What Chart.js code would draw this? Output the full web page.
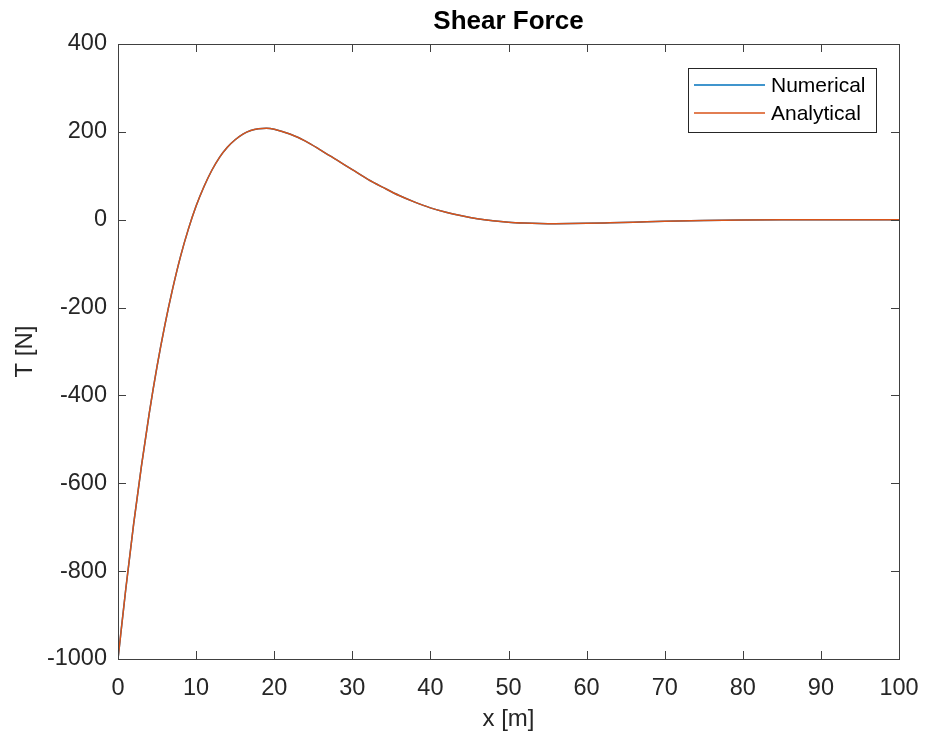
<!DOCTYPE html>
<html>
<head>
<meta charset="utf-8">
<script src="https://cdn.jsdelivr.net/npm/chart.js@4/dist/chart.umd.min.js"></script>
<style>
  html, body { margin: 0; padding: 0; background: #fff; }
  #wrap { width: 925px; height: 736px; }
</style>
</head>
<body>
<div id="wrap"><canvas id="c" width="925" height="736"></canvas></div>
<script>
// ---- data ----
const xValues = [0, 1, 2, 3, 4, 5, 6, 7, 8, 9, 10, 11, 12, 13, 14, 15, 16, 17, 18, 19, 20,
  22, 24, 26, 28, 30, 32, 34, 36, 38, 40, 42, 44, 46, 48, 50, 52, 54, 56, 58, 60,
  63, 66, 70, 75, 80, 85, 90, 95, 100];
const numericalT = [-1000, -840, -693, -561, -441, -334, -240, -157, -84, -22, 31, 75, 112, 142, 165, 182, 195, 203, 207, 208, 206,
  195, 179, 158, 136, 114, 92, 73, 55, 40, 27, 17, 9, 2.4, -2.3, -5.6, -7.5, -8.6, -9, -8.8, -8.3,
  -7, -5.6, -3.5, -1.6, -0.4, 0.1, 0.2, 0.15, 0.1];
const analyticalT = [-1000, -840, -693, -561, -441, -334, -240, -157, -84, -22, 31, 75, 112, 142, 165, 182, 195, 203, 207, 208, 206,
  195, 179, 158, 136, 114, 92, 73, 55, 40, 27, 17, 9, 2.4, -2.3, -5.6, -7.5, -8.6, -9, -8.8, -8.3,
  -7, -5.6, -3.5, -1.6, -0.4, 0.1, 0.2, 0.15, 0.1];
const seriesNames = ['Numerical', 'Analytical'];
const seriesColors = ['#0072BD', '#D95319'];
const xTickStep = 10;
const yTickStep = 200;
const titleText = 'Shear Force';
const xLabel = 'x [m]';
const yLabel = 'T [N]';

const FONT = "'Liberation Sans', Arial, Helvetica, sans-serif";
const AXIS_COLOR = '#404040';

function pts(ys) { return xValues.map((x, i) => ({ x: x, y: ys[i] })); }

const boxTicks = {
  id: 'boxTicks',
  afterDatasetsDraw(chart) {
    const { ctx, chartArea: a, scales } = chart;
    ctx.save();
    ctx.strokeStyle = AXIS_COLOR;
    ctx.lineWidth = 1;
    ctx.beginPath();
    const L = 8;
    scales.x.ticks.forEach(t => {
      const px = Math.round(scales.x.getPixelForValue(t.value)) + 0.5;
      ctx.moveTo(px, a.bottom); ctx.lineTo(px, a.bottom - L);
      ctx.moveTo(px, a.top); ctx.lineTo(px, a.top + L);
    });
    scales.y.ticks.forEach(t => {
      const py = Math.round(scales.y.getPixelForValue(t.value)) + 0.5;
      ctx.moveTo(a.left, py); ctx.lineTo(a.left + L, py);
      ctx.moveTo(a.right, py); ctx.lineTo(a.right - L, py);
    });
    ctx.stroke();
    ctx.strokeRect(Math.round(a.left) + 0.5, Math.round(a.top) + 0.5,
      Math.round(a.right - a.left), Math.round(a.bottom - a.top));

    // title centred over the plot area
    ctx.fillStyle = '#000';
    ctx.font = 'bold 26px ' + FONT;
    ctx.textAlign = 'center';
    ctx.textBaseline = 'middle';
    ctx.fillText(titleText, (a.left + a.right) / 2, 22);

    // legend (inside, top-right)
    const bx = 688.5, by = 68.5, bw = 188, bh = 64;
    ctx.fillStyle = '#fff';
    ctx.fillRect(bx, by, bw, bh);
    ctx.strokeStyle = '#262626';
    ctx.strokeRect(bx, by, bw, bh);
    ctx.font = '21px ' + FONT;
    ctx.textBaseline = 'middle';
    ctx.textAlign = 'left';
    seriesNames.forEach((name, i) => {
      const y = 85 + i * 28;
      ctx.strokeStyle = seriesColors[i];
      ctx.lineWidth = 1.5;
      ctx.beginPath();
      ctx.moveTo(694, y); ctx.lineTo(765, y);
      ctx.stroke();
      ctx.fillStyle = '#000';
      ctx.fillText(name, 771, y + 1);
    });
    ctx.restore();
  }
};

new Chart(document.getElementById('c'), {
  type: 'scatter',
  data: {
    datasets: [
      { label: seriesNames[0], data: pts(numericalT), showLine: true, borderColor: seriesColors[0], order: 1,
        backgroundColor: seriesColors[0], borderWidth: 1.5, pointRadius: 0, cubicInterpolationMode: 'monotone' },
      { label: seriesNames[1], data: pts(analyticalT), showLine: true, borderColor: seriesColors[1], order: 0,
        backgroundColor: seriesColors[1], borderWidth: 1.5, pointRadius: 0, cubicInterpolationMode: 'monotone' }
    ]
  },
  options: {
    responsive: false,
    animation: false,
    devicePixelRatio: 1,
    layout: { padding: { left: 0, right: 26, top: 44, bottom: 0 } },
    plugins: {
      legend: { display: false },
      tooltip: { enabled: false },
      title: { display: false }
    },
    scales: {
      x: {
        type: 'linear', min: 0, max: 100,
        grid: { display: false, drawTicks: false },
        border: { display: false },
        ticks: { stepSize: xTickStep, color: '#262626', padding: 15, maxRotation: 0,
          font: { family: FONT, size: 23.5 } },
        title: { display: true, text: xLabel, color: '#262626',
          font: { family: FONT, size: 24, lineHeight: 1.2 }, padding: { top: 0, bottom: 2.6 } },
        afterFit(s) { s.height = 77; s.paddingLeft = 0; s.paddingRight = 0; }
      },
      y: {
        type: 'linear', min: -1000, max: 400,
        grid: { display: false, drawTicks: false },
        border: { display: false },
        ticks: { stepSize: yTickStep, color: '#262626', padding: 11,
          font: { family: FONT, size: 23.5 }, callback: v => String(v) },
        title: { display: true, text: yLabel, color: '#262626',
          font: { family: FONT, size: 24, lineHeight: 1.2 }, padding: { top: 10.6, bottom: 0 } },
        afterFit(s) { s.width = 118; s.paddingTop = 0; s.paddingBottom = 0; }
      }
    }
  },
  plugins: [boxTicks]
});
</script>
</body>
</html>
